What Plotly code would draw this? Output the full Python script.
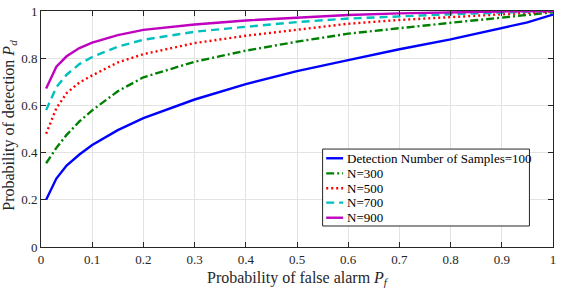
import plotly.graph_objects as go

pf = [0.01, 0.03, 0.05, 0.075, 0.1, 0.15, 0.2, 0.3, 0.4, 0.5, 0.6, 0.7, 0.8, 0.9, 0.95, 1.0]

pd_100 = [0.20, 0.29, 0.345, 0.392, 0.432, 0.495, 0.546, 0.625, 0.690, 0.745, 0.792, 0.838, 0.880, 0.926, 0.952, 0.985]
pd_300 = [0.355, 0.42, 0.475, 0.532, 0.579, 0.66, 0.719, 0.785, 0.832, 0.870, 0.904, 0.928, 0.950, 0.972, 0.984, 0.995]
pd_500 = [0.48, 0.588, 0.652, 0.697, 0.727, 0.782, 0.817, 0.864, 0.895, 0.922, 0.946, 0.962, 0.974, 0.986, 0.992, 0.998]
pd_700 = [0.58, 0.677, 0.73, 0.775, 0.805, 0.849, 0.878, 0.912, 0.933, 0.953, 0.968, 0.978, 0.986, 0.993, 0.997, 1.0]
pd_900 = [0.672, 0.764, 0.808, 0.843, 0.866, 0.898, 0.920, 0.943, 0.960, 0.973, 0.983, 0.990, 0.995, 0.998, 0.999, 1.0]

names = ["Detection Number of Samples=100", "N=300", "N=500", "N=700", "N=900"]
series = [pd_100, pd_300, pd_500, pd_700, pd_900]
colors = ["#0000ff", "#008000", "#ff0000", "#00bfbf", "#bf00bf"]
dashes = ["solid", "8px,3px,2px,3px", "2px,3px", "8px,5px", "solid"]

xticks = [0, 0.1, 0.2, 0.3, 0.4, 0.5, 0.6, 0.7, 0.8, 0.9, 1]
xticklabels = ["0", "0.1", "0.2", "0.3", "0.4", "0.5", "0.6", "0.7", "0.8", "0.9", "1"]
yticks = [0, 0.2, 0.4, 0.6, 0.8, 1]
yticklabels = ["0", "0.2", "0.4", "0.6", "0.8", "1"]

x_title = "Probability of false alarm <i>P</i><sub><i>f</i></sub>"
y_title = "Probability of detection <i>P</i><sub><i>d</i></sub>"

fig = go.Figure()
for name, ys, c, d in zip(names, series, colors, dashes):
    fig.add_trace(go.Scatter(x=pf, y=ys, mode="lines", name=name, showlegend=False,
                             line=dict(color=c, width=2.4, dash=d)))

font_family = "Liberation Serif"
axis_common = dict(showgrid=True, gridcolor="#e3e3e3", gridwidth=1, automargin=False,
                   showline=True, linecolor="#262626", linewidth=1, mirror="ticks",
                   ticks="inside", ticklen=5, tickcolor="#262626",
                   zeroline=False, tickfont=dict(family=font_family, size=13, color="#262626"))

# legend box (drawn in paper coordinates)
shapes = [dict(type="rect", xref="paper", yref="paper", x0=0.550, x1=0.954, y0=0.089, y1=0.415,
               line=dict(color="#262626", width=1), fillcolor="white", layer="above")]
annotations = []
row_y = [0.376, 0.312, 0.249, 0.188, 0.124]
for name, c, d, yy in zip(names, colors, dashes, row_y):
    shapes.append(dict(type="line", xref="paper", yref="paper", x0=0.557, x1=0.590, y0=yy, y1=yy,
                       line=dict(color=c, width=2.4, dash=d), layer="above"))
    annotations.append(dict(xref="paper", yref="paper", x=0.594, y=yy, text=name, showarrow=False,
                            xanchor="left", yanchor="middle",
                            font=dict(family=font_family, size=13, color="black")))

# y-axis title as rotated annotation for exact placement
annotations.append(dict(xref="paper", yref="paper", x=-0.062, y=0.515, text=y_title, showarrow=False,
                        textangle=-90, xanchor="center", yanchor="middle",
                        font=dict(family=font_family, size=16, color="#262626")))

fig.update_layout(
    width=561, height=288,
    margin=dict(l=41, r=8, t=11, b=41),
    paper_bgcolor="white", plot_bgcolor="white",
    font=dict(family=font_family, color="#262626"),
    xaxis=dict(range=[0, 1], tickvals=xticks, ticktext=xticklabels,
               title=dict(text=x_title,
                          font=dict(family=font_family, size=16, color="#262626")),
               **axis_common),
    yaxis=dict(range=[0, 1], tickvals=yticks, ticktext=yticklabels,
               **axis_common),
    shapes=shapes,
    annotations=annotations,
    showlegend=False,
)

fig.write_html("out.html")
